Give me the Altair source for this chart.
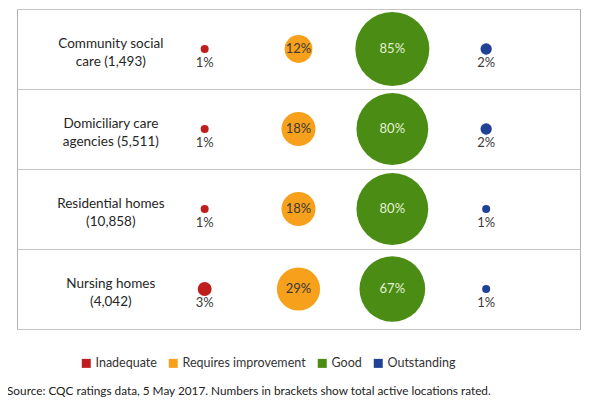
import altair as alt
import pandas as pd

# care settings (rows) and the share of locations in each rating
settings = [
    "Community social\ncare (1,493)",
    "Domiciliary care\nagencies (5,511)",
    "Residential homes\n(10,858)",
    "Nursing homes\n(4,042)",
]
ratings = ["Inadequate", "Requires improvement", "Good", "Outstanding"]
colours = ["#be1e1e", "#f7a01c", "#4a8c14", "#1f4196"]

inadequate = [1, 1, 1, 3]
requires_improvement = [12, 18, 18, 29]
good = [85, 80, 80, 67]
outstanding = [2, 2, 1, 1]

source_note = (
    "Source: CQC ratings data, 5 May 2017. "
    "Numbers in brackets show total active locations rated."
)

FONT = "Lato"

rows = []
for i, setting in enumerate(settings):
    for rating, values in zip(
        ratings, [inadequate, requires_improvement, good, outstanding]
    ):
        rows.append({"setting": setting, "col": rating, "pct": values[i]})
bubbles = pd.DataFrame(rows)
labels = pd.DataFrame({"setting": settings, "col": ["label"] * len(settings)})

x_enc = alt.X(
    "col:N",
    scale=alt.Scale(type="point", domain=["label"] + ratings, padding=1),
    axis=None,
)
y_enc = alt.Y(
    "setting:N",
    sort=settings,
    scale=alt.Scale(type="band", domain=settings, paddingInner=0, paddingOuter=0),
    axis=alt.Axis(
        grid=True,
        tickBand="extent",
        labels=False,
        ticks=False,
        domain=False,
        title=None,
        gridColor="#c4c4c4",
        gridWidth=1,
        minExtent=0,
        maxExtent=0,
        labelPadding=0,
    ),
)

circles = (
    alt.Chart(bubbles)
    .mark_circle(opacity=1)
    .encode(
        x=x_enc,
        y=y_enc,
        size=alt.Size(
            "pct:Q",
            scale=alt.Scale(type="linear", domain=[0, 85], range=[0, 5476]),
            legend=None,
        ),
        color=alt.Color(
            "col:N",
            scale=alt.Scale(domain=ratings, range=colours),
            legend=alt.Legend(
                title=None,
                orient="none",
                legendX=63,
                legendY=348,
                direction="horizontal",
                symbolType="square",
                symbolSize=81,
                symbolStrokeWidth=0,
                labelFont=FONT,
                labelFontSize=12.5,
                labelColor="#333333",
                columnPadding=10,
                labelOffset=3,
            ),
        ),
    )
)

pct_base = alt.Chart(bubbles).transform_calculate(
    label="datum.pct + '%'",
    tc="datum.col == 'Good' ? '#e2f2d2' : '#3a3a3a'",
)

inside_text = (
    pct_base.transform_filter("datum.pct >= 10")
    .mark_text(font=FONT, fontSize=13, baseline="middle")
    .encode(x=x_enc, y=y_enc, text="label:N", color=alt.Color("tc:N", scale=None))
)

below_text = (
    pct_base.transform_filter("datum.pct < 10")
    .mark_text(font=FONT, fontSize=13, baseline="middle", dy=14, color="#3a3a3a")
    .encode(x=x_enc, y=y_enc, text="label:N")
)

row_labels = (
    alt.Chart(labels)
    .mark_text(
        font=FONT,
        fontSize=13.5,
        lineBreak="\n",
        lineHeight=18,
        baseline="middle",
        dy=-5,
        color="#262626",
    )
    .encode(x=x_enc, y=y_enc, text="setting:N")
)

chart = (
    alt.layer(circles, inside_text, below_text, row_labels)
    .properties(
        width=563,
        height=320,
        autosize=alt.AutoSizeParams(type="none"),
        padding={"left": 9, "top": 1, "right": 3, "bottom": 74},
        title=alt.TitleParams(
            source_note,
            orient="bottom",
            anchor="start",
            dx=-10,
            offset=16,
            font=FONT,
            fontSize=11.8,
            fontWeight="normal",
            color="#222222",
        ),
    )
    .configure_view(stroke="#b0b0b0", strokeWidth=1)
)

chart.save("out.html", embed_options={"renderer": "svg", "actions": False})
